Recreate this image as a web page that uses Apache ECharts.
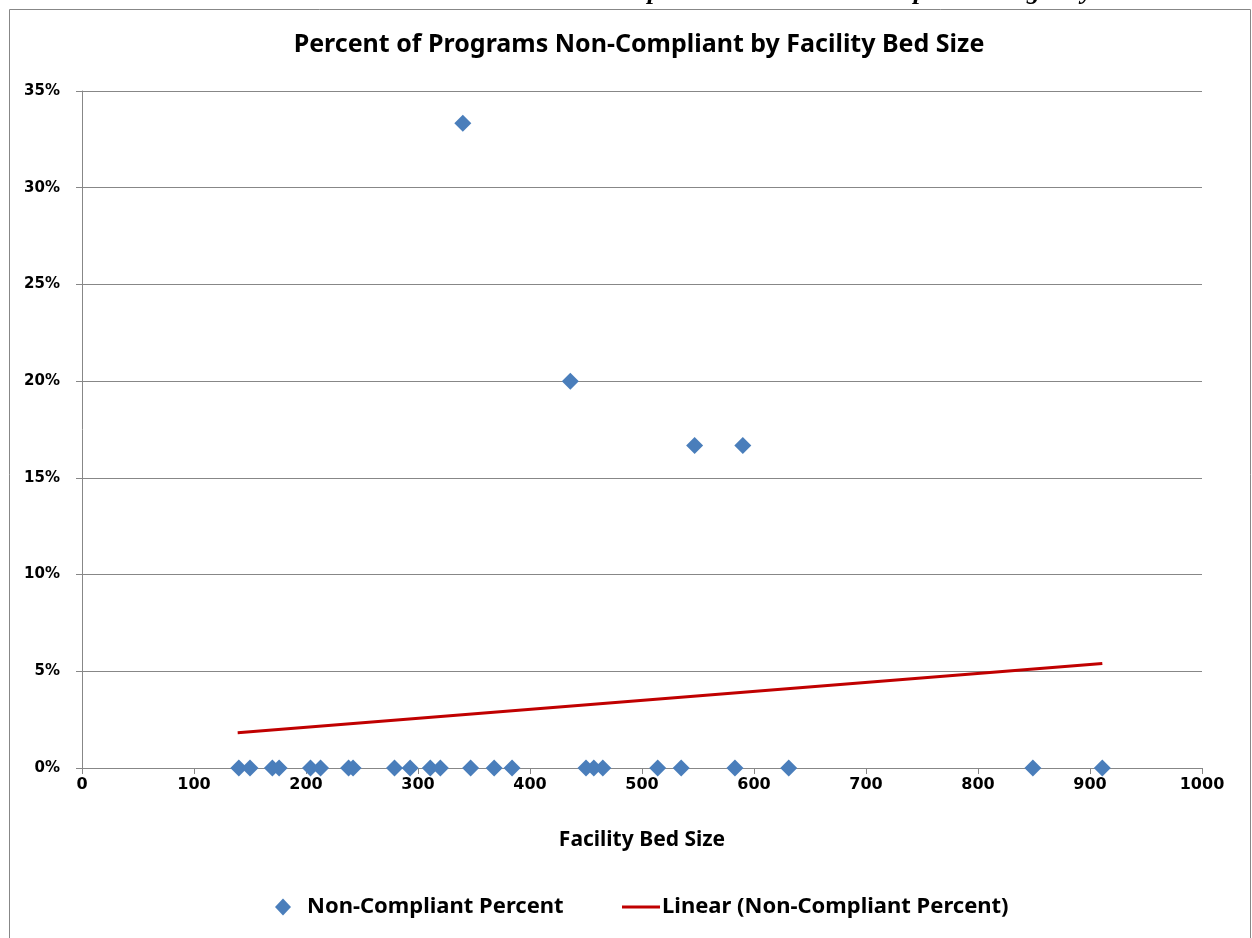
<!DOCTYPE html>
<html>
<head>
<meta charset="utf-8">
<title>Percent of Programs Non-Compliant by Facility Bed Size</title>
<script src="https://cdn.jsdelivr.net/npm/echarts@6/dist/echarts.min.js"></script>
<style>
  html, body { margin: 0; padding: 0; background: #fff; }
  #chart { width: 1252px; height: 938px; }
</style>
</head>
<body>
<div id="chart"></div>
<script>
// bed size of each facility and the percent of its programs that are non-compliant
const bedSize = [
  140, 150, 170, 176, 204, 213, 238, 242, 279, 293, 311, 320, 340, 347,
  368, 384, 436, 450, 457, 465, 514, 535, 547, 583, 590, 631, 849, 911
];
const nonCompliantPct = [
  0, 0, 0, 0, 0, 0, 0, 0, 0, 0, 0, 0, 33.33, 0,
  0, 0, 20, 0, 0, 0, 0, 0, 16.67, 0, 16.67, 0, 0, 0
];

// end points of the linear trendline
const trendBedSize = [139, 911];
const trendPct = [1.82, 5.4];

const yTicks = [0, 5, 10, 15, 20, 25, 30, 35];

const points = bedSize.map((x, i) => [x, nonCompliantPct[i]]);
const trend = trendBedSize.map((x, i) => [x, trendPct[i]]);

const gray = '#878787';
const labelFont = '"DejaVu Sans"';
const textFont = '"Noto Sans"';

const chart = echarts.init(document.getElementById('chart'), null, { renderer: 'canvas' });

chart.setOption({
  backgroundColor: '#fff',
  animation: false,
  title: {
    text: 'Percent of Programs Non-Compliant by Facility Bed Size',
    left: 634,
    top: 27,
    textAlign: 'center',
    textStyle: { fontFamily: textFont, fontWeight: 'bold', fontSize: 25, color: '#000' }
  },
  legend: [
    {
      data: [{ name: 'Non-Compliant Percent', icon: 'diamond' }],
      left: 270,
      top: 891,
      itemWidth: 16,
      itemHeight: 17,
      textStyle: { fontFamily: textFont, fontWeight: 'bold', fontSize: 22, color: '#000', padding: [0, 0, 0, 11] }
    },
    {
      data: [{ name: 'Linear (Non-Compliant Percent)', icon: 'rect' }],
      left: 617,
      top: 891,
      itemWidth: 38,
      itemHeight: 3,
      textStyle: { fontFamily: textFont, fontWeight: 'bold', fontSize: 22, color: '#000', padding: [0, 0, 0, -3] }
    }
  ],
  grid: { left: 82, right: 50, top: 91, bottom: 170, containLabel: false },
  xAxis: {
    type: 'value',
    min: 0,
    max: 1000,
    interval: 100,
    name: 'Facility Bed Size',
    nameLocation: 'middle',
    nameGap: 62,
    nameTextStyle: { fontFamily: textFont, fontWeight: 'bold', fontSize: 21, color: '#000' },
    axisLine: { show: true, lineStyle: { color: gray, width: 1 } },
    axisTick: { show: true, length: 6, lineStyle: { color: gray } },
    axisLabel: {
      fontFamily: labelFont, fontWeight: 'bold', fontSize: 16, color: '#000', margin: 9,
      formatter: v => String(v)
    },
    splitLine: { show: false }
  },
  yAxis: {
    type: 'value',
    min: yTicks[0],
    max: yTicks[yTicks.length - 1],
    interval: 5,
    axisLine: { show: true, lineStyle: { color: gray, width: 1 } },
    axisTick: { show: true, length: 6, lineStyle: { color: gray } },
    axisLabel: { fontFamily: labelFont, fontWeight: 'bold', fontSize: 15, color: '#000', margin: 22, formatter: '{value}%' },
    splitLine: { show: true, lineStyle: { color: gray, width: 1 } }
  },
  series: [
    {
      name: 'Non-Compliant Percent',
      type: 'scatter',
      symbol: 'diamond',
      symbolSize: 17,
      itemStyle: { color: '#4A7EBB', opacity: 1 },
      data: points,
      z: 3
    },
    {
      name: 'Linear (Non-Compliant Percent)',
      type: 'line',
      symbol: 'none',
      lineStyle: { color: '#C00000', width: 3 },
      itemStyle: { color: '#C00000' },
      data: trend,
      z: 2
    }
  ],
  graphic: [
    {
      type: 'rect',
      shape: { x: 9.5, y: 9.5, width: 1241, height: 1000 },
      style: { fill: null, stroke: gray, lineWidth: 1 },
      silent: true
    },
    {
      type: 'text',
      x: 1191,
      y: 5,
      style: {
        text: 'Table 5: Percent Non-Compliant Sites vs. Non-Compliant Ranges by Bed Size',
        font: 'bold italic 26px "Liberation Serif"',
        fill: '#000',
        textAlign: 'right',
        textVerticalAlign: 'bottom'
      },
      silent: true
    }
  ]
});
</script>
</body>
</html>
